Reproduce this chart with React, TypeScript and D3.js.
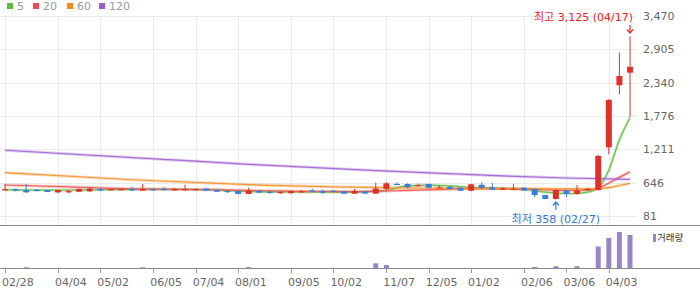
import React, { useEffect } from 'react';
import * as d3 from 'd3';

const W = 700;
const H = 289;

// Legend / moving averages
const legendLabels = ['5', '20', '60', '120'];
const legendColors = ['#5cbf3f', '#ef4b4b', '#f7881d', '#9c5bce'];
const maColors = ['#62bd45', '#ef5656', '#f5902a', '#a064d2'];

// X-axis tick labels (index of weekly candle)
const tickIndex = [0, 5, 9, 14, 18, 22, 27, 31, 36, 40, 44, 49, 53, 57];
const tickLabels = ['02/28', '04/04', '05/02', '06/05', '07/04', '08/01', '09/05', '10/02', '11/07', '12/05', '01/02', '02/06', '03/06', '04/03'];

// Y-axis ticks
const priceTicks = [81, 646, 1211, 1776, 2340, 2905, 3470];
const priceTickLabels = ['81', '646', '1,211', '1,776', '2,340', '2,905', '3,470'];

// Weekly OHLC
const opens = [530, 539, 521, 525, 521, 482, 496, 493, 499, 536, 530, 530, 538, 512, 536, 540, 528, 530, 530, 544,
  521, 505, 504, 455, 510, 492, 484, 470, 494, 514, 504, 510, 499, 460, 499, 460, 540, 625, 623, 598,
  623, 562, 577, 560, 510, 611, 567, 538, 536, 560, 539, 437, 369, 510, 455, 533, 521, 1245, 2296, 2510];
const highs = [623, 542, 623, 535, 525, 525, 521, 545, 566, 555, 545, 550, 578, 623, 555, 572, 555, 612, 545, 561,
  525, 510, 507, 561, 515, 520, 495, 508, 515, 544, 530, 515, 502, 540, 503, 646, 652, 650, 635, 630,
  628, 600, 590, 565, 625, 652, 640, 567, 623, 565, 545, 440, 528, 533, 606, 560, 1115, 2060, 2850, 3125];
const lows = [505, 500, 475, 500, 485, 468, 468, 490, 485, 500, 515, 520, 508, 508, 510, 515, 510, 512, 520, 505,
  490, 470, 445, 450, 475, 460, 455, 455, 480, 500, 455, 485, 458, 455, 458, 455, 505, 615, 545, 582,
  555, 555, 535, 505, 498, 535, 522, 533, 530, 508, 398, 365, 358, 403, 440, 520, 510, 1127, 2140, 1760];
const closes = [536, 512, 482, 520, 488, 521, 502, 539, 544, 530, 535, 536, 512, 538, 530, 532, 535, 537, 535, 510,
  493, 496, 455, 510, 478, 485, 490, 504, 500, 506, 478, 490, 460, 504, 461, 545, 635, 618, 568, 606,
  560, 568, 540, 510, 618, 560, 527, 546, 542, 512, 437, 370, 521, 455, 510, 540, 1098, 2047, 2455, 2610];

// Weekly volume (thousand shares)
const volumes = [0, 0, 80, 0, 0, 0, 0, 0, 0, 0, 0, 0, 0, 70, 0, 0, 0, 0, 0, 0,
  0, 0, 0, 90, 0, 0, 0, 0, 0, 0, 0, 0, 0, 0, 0, 470, 300, 0, 0, 0,
  0, 0, 0, 0, 0, 0, 0, 0, 0, 0, 100, 0, 180, 0, 180, 0, 2150, 3000, 3600, 3300];

// Moving averages (candle index, value)
const ma5Idx = [0, 5, 10, 12, 16, 19, 21, 23, 24, 28, 32, 34, 35, 36, 37, 38, 40, 42, 44, 46, 48, 49, 50, 51, 52, 53, 54, 55, 56, 57, 58, 59];
const ma5Val = [525, 518, 528, 532, 535, 530, 515, 498, 490, 488, 485, 490, 505, 515, 560, 590, 605, 590, 565, 555, 545, 530, 510, 485, 468, 462, 465, 485, 560, 860, 1370, 1750];
const ma20Idx = [0, 6, 12, 18, 23, 28, 33, 36, 40, 45, 49, 53, 55, 56, 57, 58, 59];
const ma20Val = [606, 575, 542, 530, 515, 500, 495, 505, 525, 545, 540, 515, 520, 550, 640, 735, 830];
const ma60Idx = [0, 12, 23, 36, 45, 55, 56, 57, 58, 59];
const ma60Val = [815, 695, 612, 560, 545, 540, 545, 563, 598, 635];
const ma120Idx = [0, 15, 23, 35, 47, 53, 59];
const ma120Val = [1195, 1040, 957, 850, 760, 725, 703];

const highDateLabel = '04/17';
const lowDateLabel = '02/27';

const FONT = "'DejaVu Sans', 'Noto Sans CJK KR', sans-serif";

export default function App() {
  useEffect(() => {
    document.body.style.margin = '0';
  }, []);

  const n = closes.length;
  const x = d3.scaleLinear().domain([0, n - 1]).range([5, 630]);
  const y = d3.scaleLinear().domain([81, 3470]).range([216, 16]);
  const yv = d3.scaleLinear().domain([0, 4200]).range([268, 226]);

  const plotRight = 637;
  const priceBottom = 225;
  const volBottom = 268;

  const maSeries = [
    { idx: ma5Idx, val: ma5Val, color: maColors[0] },
    { idx: ma20Idx, val: ma20Val, color: maColors[1] },
    { idx: ma60Idx, val: ma60Val, color: maColors[2] },
    { idx: ma120Idx, val: ma120Val, color: maColors[3] },
  ];
  const lineGen = d3
    .line<[number, number]>()
    .x((d) => x(d[0]))
    .y((d) => y(d[1]))
    .curve(d3.curveMonotoneX);

  const hiIdx = d3.maxIndex(highs);
  const loIdx = d3.minIndex(lows);
  const fmt = d3.format(',');
  const red = '#e1302a';
  const blue = '#3a7de0';

  return (
    <svg width={W} height={H} style={{ display: 'block', fontFamily: FONT }}>
      <rect x={0} y={0} width={W} height={H} fill="#fff" />
      {/* horizontal grid */}
      {priceTicks.map((t) => (
        <line key={'hg' + t} x1={0} x2={plotRight} y1={Math.round(y(t)) + 0.5} y2={Math.round(y(t)) + 0.5} stroke="#ebebeb" />
      ))}
      {/* vertical grid */}
      {tickIndex.map((i) => (
        <line key={'vg' + i} x1={Math.round(x(i)) + 0.5} x2={Math.round(x(i)) + 0.5} y1={16} y2={priceBottom} stroke="#ebebeb" />
      ))}
      {/* moving averages */}
      {maSeries.map((s, k) => {
        const pts = s.idx.map((i, j) => [i, s.val[j]] as [number, number]);
        const d = lineGen(pts) || '';
        return (
          <g key={'ma' + k}>
            <path d={d} fill="none" stroke={s.color} strokeWidth={3} strokeOpacity={0.3} />
            <path d={d} fill="none" stroke={s.color} strokeWidth={1.2} strokeOpacity={0.9} />
          </g>
        );
      })}
      {/* candles */}
      {closes.map((c, i) => {
        const o = opens[i];
        const up = c >= o;
        const col = up ? red : blue;
        const cx = x(i);
        const top = y(Math.max(o, c));
        const bot = y(Math.min(o, c));
        return (
          <g key={'c' + i}>
            <rect x={cx - 0.5} y={y(highs[i])} width={1} height={Math.max(1, y(lows[i]) - y(highs[i]))} fill={col} />
            <rect x={cx - 3} y={top} width={6} height={Math.max(1.2, bot - top)} fill={col} />
          </g>
        );
      })}
      {/* high / low annotations */}
      <text x={633} y={21} textAnchor="end" fontSize={11} fill="#e8231d">
        {`최고 ${fmt(highs[hiIdx])} (${highDateLabel})`}
      </text>
      <g stroke="#e8231d" fill="none" strokeWidth={1.2}>
        <line x1={x(hiIdx)} x2={x(hiIdx)} y1={25} y2={33} />
        <path d={`M${x(hiIdx) - 3},${29.5} L${x(hiIdx)},${33} L${x(hiIdx) + 3},${29.5}`} />
      </g>
      <text x={x(loIdx)} y={223} textAnchor="middle" fontSize={11} fill="#2f7bd8">
        {`최저 ${fmt(lows[loIdx])} (${lowDateLabel})`}
      </text>
      <g stroke="#2f7bd8" fill="none" strokeWidth={1.2}>
        <line x1={x(loIdx)} x2={x(loIdx)} y1={202} y2={210} />
        <path d={`M${x(loIdx) - 3},${205.5} L${x(loIdx)},${202} L${x(loIdx) + 3},${205.5}`} />
      </g>
      {/* price axis labels */}
      {priceTicks.map((t, k) => (
        <text key={'pl' + t} x={643} y={y(t)} dy="0.35em" fontSize={11} fill="#666">
          {priceTickLabels[k]}
        </text>
      ))}
      {/* panel separators */}
      <line x1={0} x2={W} y1={priceBottom + 0.5} y2={priceBottom + 0.5} stroke="#888" />
      <line x1={0} x2={W} y1={volBottom + 0.5} y2={volBottom + 0.5} stroke="#888" />
      {/* volume bars */}
      {volumes.map((v, i) =>
        v > 0 ? (
          <rect key={'v' + i} x={x(i) - 2.5} y={yv(v)} width={5} height={volBottom - yv(v)} fill="#9a84c8" />
        ) : null
      )}
      {/* volume legend */}
      <rect x={653} y={234} width={3} height={8} fill="#9a84c8" />
      <text x={657} y={238} dy="0.35em" fontSize={9.5} fill="#333">거래량</text>
      {/* x ticks */}
      {tickIndex.map((i, k) => (
        <g key={'xt' + i}>
          <line x1={Math.round(x(i)) + 0.5} x2={Math.round(x(i)) + 0.5} y1={volBottom} y2={273} stroke="#999" />
          <text x={x(i) - 3} y={282} dy="0.35em" fontSize={11} fill="#666">
            {tickLabels[k]}
          </text>
        </g>
      ))}
      {/* top legend */}
      {legendLabels.map((l, k) => {
        const lx = [7, 33, 67, 99][k];
        return (
          <g key={'lg' + k}>
            <rect x={lx} y={3} width={6} height={6} fill={legendColors[k]} />
            <text x={lx + 10} y={6.5} dy="0.35em" fontSize={11} fill="#999">
              {l}
            </text>
          </g>
        );
      })}
    </svg>
  );
}
